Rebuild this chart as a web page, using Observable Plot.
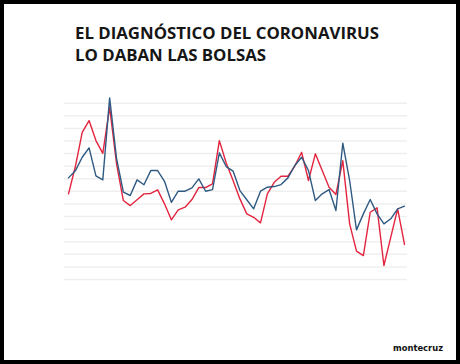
<!DOCTYPE html>
<html>
<head>
<meta charset="utf-8">
<script src="https://cdn.jsdelivr.net/npm/d3@7"></script>
<script src="https://cdn.jsdelivr.net/npm/@observablehq/plot@0.6"></script>
<style>
  html, body { margin: 0; padding: 0; background: #fff; }
  #wrap { position: relative; width: 460px; height: 364px; overflow: hidden; background: #fff; }
  #chart { position: absolute; left: 0; top: 0; }
  #title { position: absolute; left: 75px; top: 22px; margin: 0; font-family: "Open Sans", sans-serif; font-weight: 700; font-size: 17.5px; line-height: 22px; color: #161616; white-space: nowrap; }
  #caption { position: absolute; top: 342px; font-family: "DejaVu Sans Condensed", "DejaVu Sans", sans-serif; font-weight: 700; font-size: 11px; color: #111; white-space: nowrap; }
  #border { position: absolute; left: 0; top: 0; width: 460px; height: 364px; box-sizing: border-box; border: 4px solid #000; pointer-events: none; }
</style>
</head>
<body>
<div id="wrap">
  <div id="chart"></div>
  <h1 id="title"><span id="t1">EL DIAGNÓSTICO DEL CORONAVIRUS</span><br><span id="t2">LO DABAN LAS BOLSAS</span></h1>
  <div id="caption">montecruz</div>
  <div id="border"></div>
</div>
<script>
const sesion = [1,2,3,4,5,6,7,8,9,10,11,12,13,14,15,16,17,18,19,20,21,22,23,24,25,26,27,28,29,30,31,32,33,34,35,36,37,38,39,40,41,42,43,44,45,46,47,48,49,50];
const serieAzul = [8.07,8.63,9.71,10.45,8.23,7.91,14.42,9.64,6.93,6.67,7.91,7.52,8.65,8.65,7.80,6.13,7.01,7.01,7.28,7.99,7.01,7.14,10.06,8.97,8.61,7.06,6.33,5.61,7.01,7.33,7.38,7.54,8.07,9.05,9.71,8.65,6.27,6.80,7.14,5.48,10.82,7.86,3.94,5.21,6.35,5.21,4.42,4.82,5.61,5.82];
const serieRoja = [6.80,8.97,11.69,12.62,11.03,10.02,13.67,9.21,6.27,5.87,6.33,6.80,6.83,7.12,6.01,4.74,5.53,5.74,6.35,7.30,7.30,7.60,11.03,9.25,7.86,6.40,5.21,4.94,4.50,6.80,7.72,8.20,8.20,9.01,10.10,7.86,9.98,8.65,7.33,6.75,9.44,4.42,2.25,1.90,5.34,5.69,1.11,3.36,5.61,2.78];
const lineasGuia = [0,1,2,3,4,5,6,7,8,9,10,11,12,13,14];

const azul = sesion.map((s, i) => ({s, v: serieAzul[i]}));
const roja = sesion.map((s, i) => ({s, v: serieRoja[i]}));

const chart = Plot.plot({
  width: 460,
  height: 364,
  marginLeft: 64,
  marginRight: 53,
  marginTop: 102.7,
  marginBottom: 85,
  style: {background: "transparent"},
  x: {domain: [1, 50], insetLeft: 4, insetRight: 3, axis: null},
  y: {domain: [0, 14], axis: null},
  marks: [
    Plot.ruleY(lineasGuia, {stroke: "#efefef", strokeWidth: 1.5}),
    Plot.line(roja, {x: "s", y: "v", stroke: "#e3243f", strokeWidth: 1.4}),
    Plot.line(azul, {x: "s", y: "v", stroke: "#2f5a82", strokeWidth: 1.4})
  ]
});
document.getElementById("chart").appendChild(chart);

// fit title line 1 to ~304px width
const t1 = document.getElementById("t1");
const title = document.getElementById("title");
let fs = 17.5;
for (let k = 0; k < 6; k++) {
  const w = t1.getBoundingClientRect().width;
  fs = fs * 304 / w;
  title.style.fontSize = fs + "px";
}
// fit caption to ~50px, right edge at 443
const cap = document.getElementById("caption");
let cfs = 11;
for (let k = 0; k < 6; k++) {
  const w = cap.getBoundingClientRect().width;
  cfs = cfs * 50 / w;
  cap.style.fontSize = cfs + "px";
}
cap.style.left = (443 - cap.getBoundingClientRect().width) + "px";
</script>
</body>
</html>
